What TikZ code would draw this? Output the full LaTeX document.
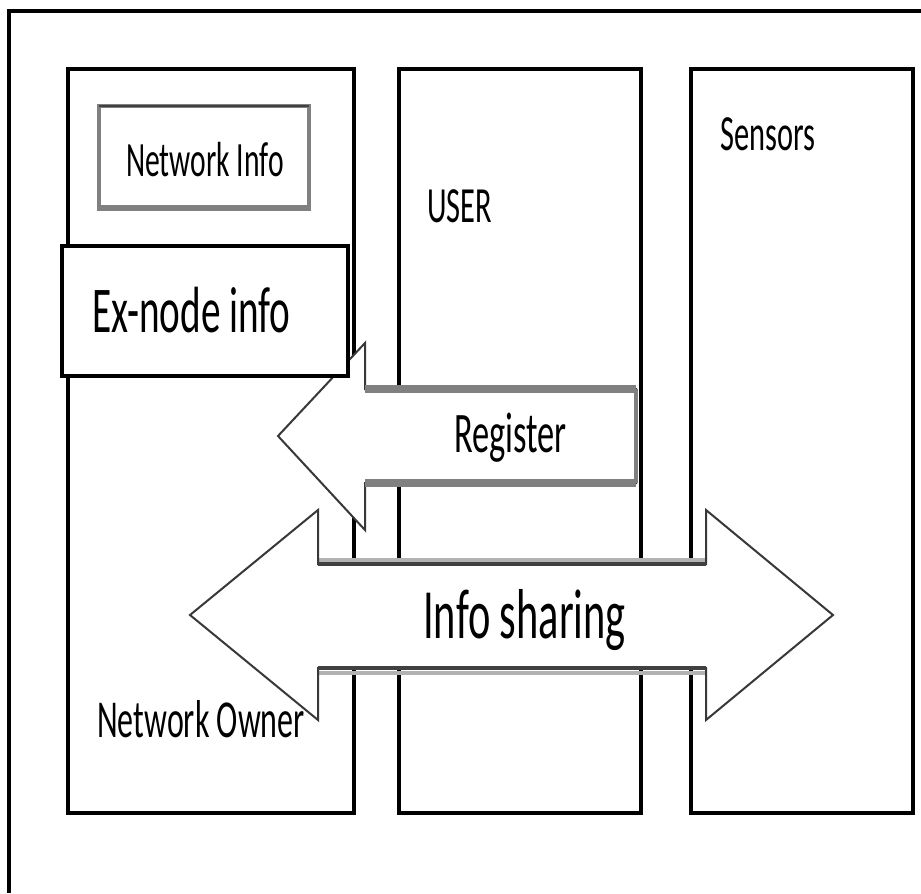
\documentclass[tikz,border=0pt]{standalone}
\usepackage{fontspec}
\setmainfont{Carlito}[FakeStretch=0.6]
\tikzset{
  lane/.style={draw=black, line width=2.5pt},
  txt/.style={anchor=base west, inner sep=0pt, text=black},
  arrowline/.style={draw=black!78, line width=1.5pt, fill=white, line join=miter},
}
\begin{document}
\begin{tikzpicture}[x=0.75pt, y=-0.75pt]
\useasboundingbox (0,0) rectangle (921,893);
\draw[line width=3pt] (9,893) -- (9,11) -- (921,11);
\draw[lane] (68,69) rectangle (354,813);
\draw[lane] (399,69) rectangle (641,813);
\draw[lane] (691,69) rectangle (913,813);
% network info
\draw[gray, line width=2.5pt] (99,106) rectangle (309,207);
\draw[black!75, line width=2pt] (99,106) -- (309,106);
\draw[gray, line width=5pt] (97,208) -- (311,208);
% register arrow
\draw[arrowline] (636,389) -- (365,389) -- (365,343) -- (278,436) -- (365,530) -- (365,483) -- (636,483) -- cycle;
\draw[gray, line width=6pt] (365,389) -- (636,389);
\draw[gray, line width=6pt] (365,483) -- (636,483);
\draw[gray, line width=2.5pt] (636,389) -- (636,483);
% ex-node box
\draw[lane, fill=white] (62,246) rectangle (348,376);
% info sharing arrow
\draw[black!30, line width=2.5pt] (318,560) -- (706,560);
\draw[black!30, line width=3pt] (318,673) -- (706,673);
\draw[arrowline] (190,615) -- (318,510) -- (318,564) -- (706,564) -- (706,510) -- (833,615) -- (706,720) -- (706,668) -- (318,668) -- (318,720) -- cycle;
\draw[black!75, line width=3pt] (318,564) -- (706,564);
\draw[black!75, line width=3pt] (318,668) -- (706,668);
% texts
\node[txt] (netinfo) at (126,176) {\fontsize{37}{40}\selectfont Network Info};
\node[txt] (user) at (427,222) {\fontsize{38}{40}\selectfont USER};
\node[txt] (sensors) at (720,150) {\fontsize{38}{40}\selectfont Sensors};
\node[txt] (exnode) at (92,332) {\fontsize{49}{55}\selectfont Ex-node info};
\node[txt] (register) at (454,452) {\fontsize{43}{50}\selectfont Register};
\node[txt] (sharing) at (423,638) {\fontsize{53}{60}\selectfont Info sharing};
\node[txt] (owner) at (97,737) {\fontsize{40}{45}\selectfont Network Owner};
\end{tikzpicture}
\end{document}
